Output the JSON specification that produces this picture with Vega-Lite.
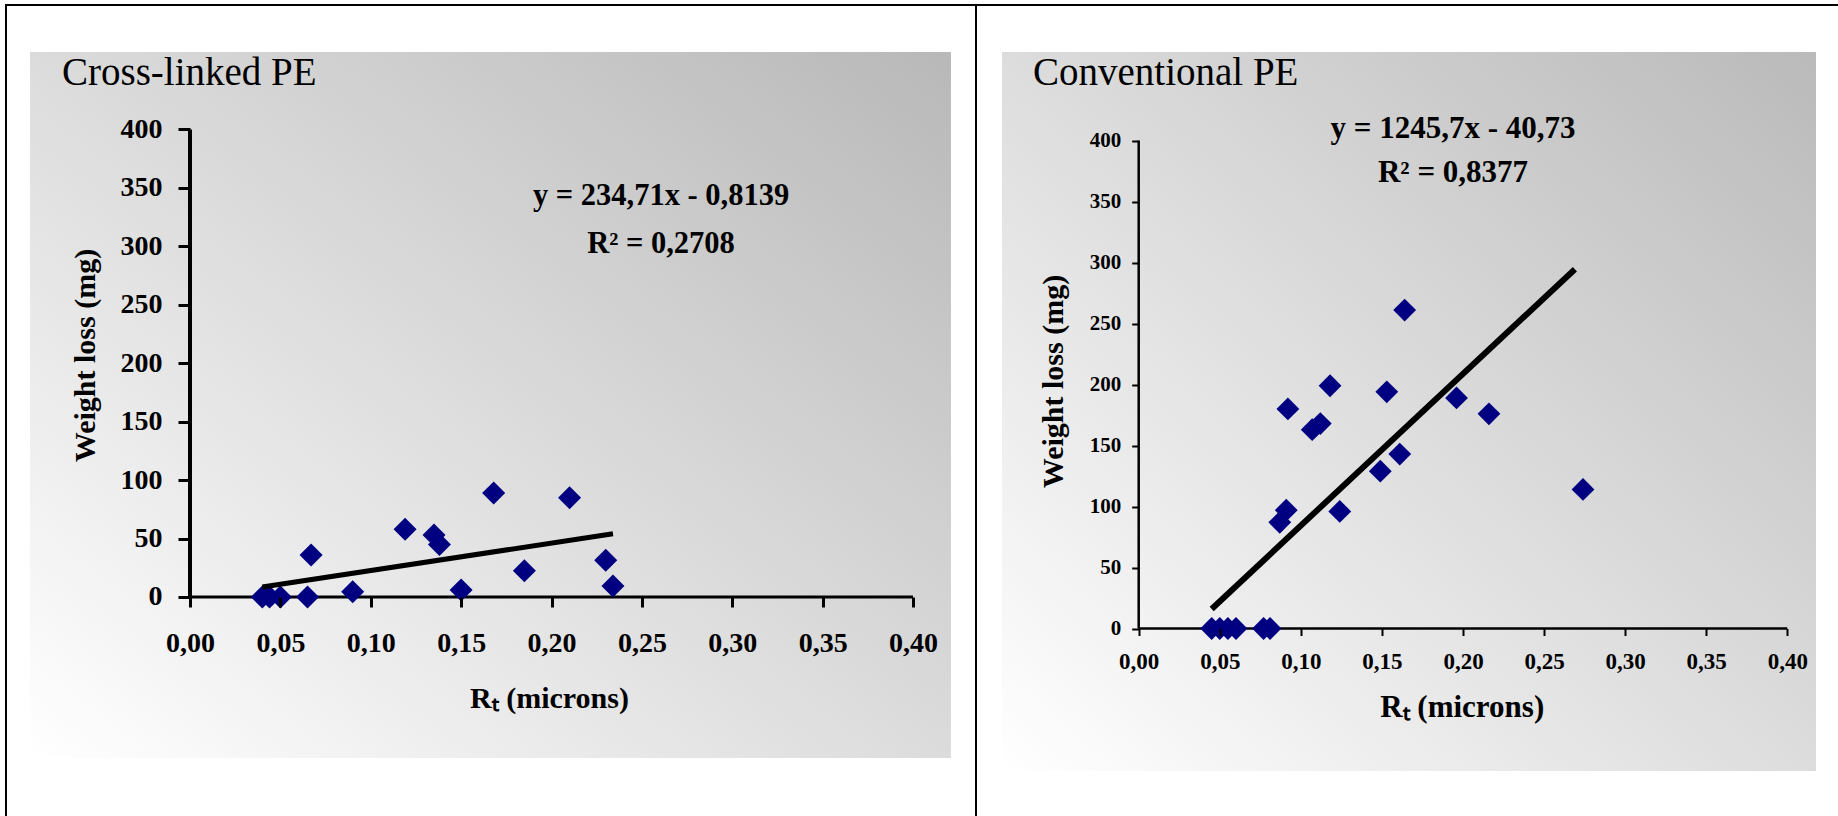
{
  "$schema": "https://vega.github.io/schema/vega-lite/v6.json",
  "background": "white",
  "padding": {"left": 5, "top": 4, "right": 0, "bottom": 0},
  "bounds": "flush",
  "spacing": 0,
  "config": {
    "view": {"stroke": "#000000", "strokeWidth": 2, "fill": "white"},
    "font": "Liberation Serif"
  },
  "datasets": {
    "one": [{"k": 1}],
    "xl": [
      {"rt": 0.040, "wl": 0}, {"rt": 0.044, "wl": 0}, {"rt": 0.050, "wl": 0}, {"rt": 0.065, "wl": 0},
      {"rt": 0.067, "wl": 36}, {"rt": 0.090, "wl": 4.5}, {"rt": 0.119, "wl": 58}, {"rt": 0.135, "wl": 53},
      {"rt": 0.138, "wl": 45}, {"rt": 0.150, "wl": 6}, {"rt": 0.168, "wl": 89}, {"rt": 0.185, "wl": 22.5},
      {"rt": 0.210, "wl": 85}, {"rt": 0.230, "wl": 31.5}, {"rt": 0.234, "wl": 9.5}
    ],
    "xl_trend": [{"rt": 0.040, "wl": 8.6}, {"rt": 0.234, "wl": 54.1}],
    "conv": [
      {"rt": 0.045, "wl": 0}, {"rt": 0.050, "wl": 0}, {"rt": 0.055, "wl": 0}, {"rt": 0.060, "wl": 0},
      {"rt": 0.077, "wl": 0}, {"rt": 0.081, "wl": 0}, {"rt": 0.087, "wl": 87}, {"rt": 0.091, "wl": 97},
      {"rt": 0.092, "wl": 180}, {"rt": 0.107, "wl": 163}, {"rt": 0.112, "wl": 168}, {"rt": 0.118, "wl": 199},
      {"rt": 0.124, "wl": 96}, {"rt": 0.149, "wl": 129}, {"rt": 0.153, "wl": 194}, {"rt": 0.161, "wl": 143},
      {"rt": 0.164, "wl": 261}, {"rt": 0.196, "wl": 189}, {"rt": 0.216, "wl": 176}, {"rt": 0.274, "wl": 114}
    ],
    "conv_trend": [{"rt": 0.045, "wl": 16}, {"rt": 0.269, "wl": 294.5}]
  },
  "hconcat": [
    {
      "width": 970,
      "height": 825,
      "title": {"text": "Cross-linked PE", "anchor": "start", "frame": "group", "orient": "top", "offset": -119, "dx": 56, "baseline": "alphabetic", "font": "Liberation Serif", "fontSize": 39, "fontWeight": "normal", "color": "#000000", "zindex": 1},
      "layer": [
        {
          "data": {"name": "one"},
          "mark": {"type": "rect", "color": {"gradient": "linear", "x1": 0, "y1": 1, "x2": 1, "y2": 0, "stops": [{"offset": 0, "color": "#ffffff"}, {"offset": 1, "color": "#b8b8b8"}]}},
          "encoding": {
            "x": {"datum": -0.0885, "type": "quantitative", "scale": {"domain": [-0.101798, 0.43485], "nice": false, "zero": false},
              "axis": {"values": [0, 0.05, 0.1, 0.15, 0.2, 0.25, 0.3, 0.35, 0.4], "labelExpr": "replace(format(datum.value, '.2f'), '.', ',')", "offset": -233, "domain": false, "grid": false, "zindex": 1, "tickColor": "#000000", "tickSize": 10, "tickWidth": 3, "labelColor": "#000000", "labelFont": "Liberation Serif", "labelFontWeight": "bold", "labelFontSize": 28, "labelPadding": 22, "title": "Rₜ (microns)", "titleColor": "#000000", "titleFont": "Liberation Serif", "titleFontWeight": "bold", "titleFontSize": 30, "titleX": 543, "titleY": 110, "titleBaseline": "alphabetic", "titleAlign": "center"}},
            "x2": {"datum": 0.421},
            "y": {"datum": 466.3, "type": "quantitative", "scale": {"domain": [-199.36, 506.52], "nice": false, "zero": false},
              "axis": {"values": [0, 50, 100, 150, 200, 250, 300, 350, 400], "format": "d", "offset": -184, "domain": false, "grid": false, "zindex": 1, "tickColor": "#000000", "tickSize": 12, "tickWidth": 3, "labelColor": "#000000", "labelFont": "Liberation Serif", "labelFontWeight": "bold", "labelFontSize": 28, "labelPadding": 16, "title": "Weight loss (mg)", "titleColor": "#000000", "titleFont": "Liberation Serif", "titleFontWeight": "bold", "titleFontSize": 30, "titleX": -105, "titleY": 350, "titleAngle": -90, "titleBaseline": "middle", "titleAlign": "center"}},
            "y2": {"datum": -137.75}
          }
        },
        {
          "data": {"name": "one"},
          "mark": {"type": "rule", "color": "#000000", "strokeWidth": 3},
          "encoding": {
            "x": {"datum": 0, "type": "quantitative"},
            "x2": {"datum": 0.4},
            "y": {"datum": 0, "type": "quantitative"}
          }
        },
        {
          "data": {"name": "one"},
          "mark": {"type": "rule", "color": "#000000", "strokeWidth": 4},
          "encoding": {
            "x": {"datum": 0, "type": "quantitative"},
            "y": {"datum": 0, "type": "quantitative"},
            "y2": {"datum": 400}
          }
        },
        {
          "data": {"name": "xl"},
          "mark": {"type": "point", "shape": "diamond", "filled": true, "color": "#000080", "size": 530, "opacity": 1},
          "encoding": {
            "x": {"field": "rt", "type": "quantitative"},
            "y": {"field": "wl", "type": "quantitative"}
          }
        },
        {
          "data": {"name": "xl_trend"},
          "mark": {"type": "line", "color": "#000000", "strokeWidth": 5},
          "encoding": {
            "x": {"field": "rt", "type": "quantitative"},
            "y": {"field": "wl", "type": "quantitative"}
          }
        },
        {
          "data": {"name": "one"},
          "mark": {"type": "text", "text": "y = 234,71x - 0,8139", "font": "Liberation Serif", "fontSize": 30.5, "fontWeight": "bold", "align": "center", "baseline": "alphabetic", "color": "#000000"},
          "encoding": {
            "x": {"datum": 0.2606, "type": "quantitative"},
            "y": {"datum": 335.4, "type": "quantitative"}
          }
        },
        {
          "data": {"name": "one"},
          "mark": {"type": "text", "text": "R² = 0,2708", "font": "Liberation Serif", "fontSize": 30.5, "fontWeight": "bold", "align": "center", "baseline": "alphabetic", "color": "#000000"},
          "encoding": {
            "x": {"datum": 0.2606, "type": "quantitative"},
            "y": {"datum": 294.3, "type": "quantitative"}
          }
        }
      ]
    },
    {
      "width": 884,
      "height": 825,
      "title": {"text": "Conventional PE", "anchor": "start", "frame": "group", "orient": "top", "offset": -119, "dx": 57, "baseline": "alphabetic", "font": "Liberation Serif", "fontSize": 39, "fontWeight": "normal", "color": "#000000", "zindex": 1},
      "layer": [
        {
          "data": {"name": "one"},
          "mark": {"type": "rect", "color": {"gradient": "linear", "x1": 0, "y1": 1, "x2": 1, "y2": 0, "stops": [{"offset": 0, "color": "#ffffff"}, {"offset": 1, "color": "#bababa"}]}},
          "encoding": {
            "x": {"datum": -0.08431, "type": "quantitative", "scale": {"domain": [-0.10034, 0.44483], "nice": false, "zero": false},
              "axis": {"values": [0, 0.05, 0.1, 0.15, 0.2, 0.25, 0.3, 0.35, 0.4], "labelExpr": "replace(format(datum.value, '.2f'), '.', ',')", "offset": -201.5, "domain": false, "grid": false, "zindex": 1, "tickColor": "#000000", "tickSize": 7, "tickWidth": 2, "labelColor": "#000000", "labelFont": "Liberation Serif", "labelFontWeight": "bold", "labelFontSize": 23, "labelPadding": 15, "title": "Rₜ (microns)", "titleColor": "#000000", "titleFont": "Liberation Serif", "titleFontWeight": "bold", "titleFontSize": 31, "titleX": 485.7, "titleY": 88, "titleBaseline": "alphabetic", "titleAlign": "center"}},
            "x2": {"datum": 0.4177},
            "y": {"datum": 472.54, "type": "quantitative", "scale": {"domain": [-165.16, 511.07], "nice": false, "zero": false},
              "axis": {"values": [0, 50, 100, 150, 200, 250, 300, 350, 400], "format": "d", "offset": -162.7, "domain": false, "grid": false, "zindex": 1, "tickColor": "#000000", "tickSize": 7, "tickWidth": 2, "labelColor": "#000000", "labelFont": "Liberation Serif", "labelFontWeight": "bold", "labelFontSize": 21, "labelPadding": 11, "title": "Weight loss (mg)", "titleColor": "#000000", "titleFont": "Liberation Serif", "titleFontWeight": "bold", "titleFontSize": 30, "titleX": -85.5, "titleY": 376, "titleAngle": -90, "titleBaseline": "middle", "titleAlign": "center"}},
            "y2": {"datum": -116.8}
          }
        },
        {
          "data": {"name": "one"},
          "mark": {"type": "rule", "color": "#000000", "strokeWidth": 2.5},
          "encoding": {
            "x": {"datum": 0, "type": "quantitative"},
            "x2": {"datum": 0.4},
            "y": {"datum": 0, "type": "quantitative"}
          }
        },
        {
          "data": {"name": "one"},
          "mark": {"type": "rule", "color": "#000000", "strokeWidth": 2.5},
          "encoding": {
            "x": {"datum": 0, "type": "quantitative"},
            "y": {"datum": 0, "type": "quantitative"},
            "y2": {"datum": 400}
          }
        },
        {
          "data": {"name": "conv"},
          "mark": {"type": "point", "shape": "diamond", "filled": true, "color": "#000080", "size": 520, "opacity": 1},
          "encoding": {
            "x": {"field": "rt", "type": "quantitative"},
            "y": {"field": "wl", "type": "quantitative"}
          }
        },
        {
          "data": {"name": "conv_trend"},
          "mark": {"type": "line", "color": "#000000", "strokeWidth": 6},
          "encoding": {
            "x": {"field": "rt", "type": "quantitative"},
            "y": {"field": "wl", "type": "quantitative"}
          }
        },
        {
          "data": {"name": "one"},
          "mark": {"type": "text", "text": "y = 1245,7x - 40,73", "font": "Liberation Serif", "fontSize": 31, "fontWeight": "bold", "align": "center", "baseline": "alphabetic", "color": "#000000"},
          "encoding": {
            "x": {"datum": 0.19383, "type": "quantitative"},
            "y": {"datum": 401.8, "type": "quantitative"}
          }
        },
        {
          "data": {"name": "one"},
          "mark": {"type": "text", "text": "R² = 0,8377", "font": "Liberation Serif", "fontSize": 31, "fontWeight": "bold", "align": "center", "baseline": "alphabetic", "color": "#000000"},
          "encoding": {
            "x": {"datum": 0.19383, "type": "quantitative"},
            "y": {"datum": 366.2, "type": "quantitative"}
          }
        }
      ]
    }
  ]
}
